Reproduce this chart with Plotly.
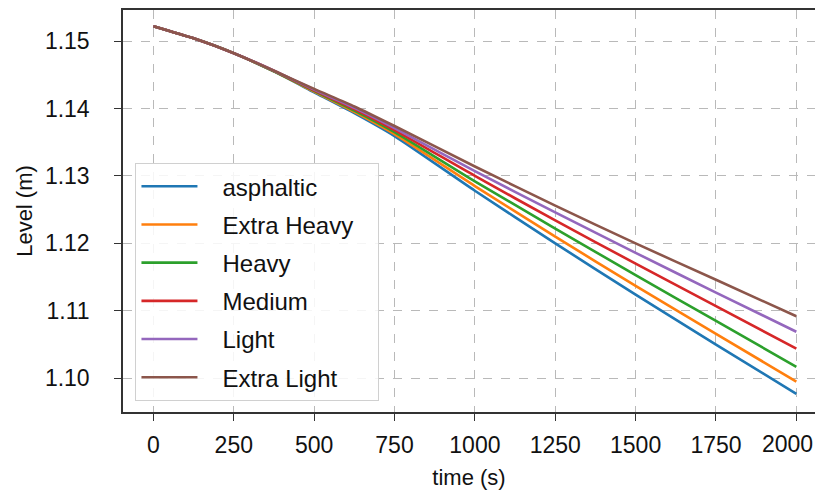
import plotly.graph_objects as go

time_s = [0, 125, 250, 375, 500, 625, 750, 1000, 1250, 1500, 1750, 2000]

asphaltic   = [1.1522, 1.1504, 1.1482, 1.1455, 1.1424, 1.1393, 1.1359, 1.1278, 1.1200, 1.1124, 1.1050, 1.0977]
extra_heavy = [1.1522, 1.1504, 1.1482, 1.1455, 1.1425, 1.1395, 1.1362, 1.1285, 1.1210, 1.1137, 1.1066, 1.0995]
heavy       = [1.1522, 1.1504, 1.1482, 1.1455, 1.1426, 1.1397, 1.1365, 1.1292, 1.1222, 1.1153, 1.1085, 1.1017]
medium      = [1.1522, 1.1504, 1.1482, 1.1456, 1.1427, 1.1399, 1.1368, 1.1300, 1.1234, 1.1170, 1.1107, 1.1044]
light       = [1.1522, 1.1504, 1.1482, 1.1456, 1.1428, 1.1401, 1.1371, 1.1307, 1.1246, 1.1186, 1.1127, 1.1069]
extra_light = [1.1522, 1.1504, 1.1482, 1.1456, 1.1429, 1.1403, 1.1374, 1.1314, 1.1256, 1.1200, 1.1146, 1.1092]

names = ["asphaltic", "Extra Heavy", "Heavy", "Medium", "Light", "Extra Light"]
series = [asphaltic, extra_heavy, heavy, medium, light, extra_light]
colors = ["#1f77b4", "#ff7f0e", "#2ca02c", "#d62728", "#9467bd", "#8c564b"]

x_ticks = [0, 250, 500, 750, 1000, 1250, 1500, 1750, 2000]
y_ticks = [1.10, 1.11, 1.12, 1.13, 1.14, 1.15]

FONT = "Liberation Sans, Arial, sans-serif"
NB = "\u00a0"

fig = go.Figure()
for i, (n, s, c) in enumerate(zip(names, series, colors)):
    fig.add_trace(go.Scatter(
        x=time_s, y=s, name=NB * 3 + n + NB * 3, mode="lines",
        line=dict(color=c, width=2.6, shape="spline", smoothing=0.6),
        legendgroup=f"g{i}",
    ))

axis_common = dict(
    showgrid=True, gridcolor="#b9b9b9", griddash="dash", gridwidth=1,
    zeroline=False, showline=True, linecolor="#333333", linewidth=1.5,
    ticks="outside", ticklen=7, tickwidth=1.3, tickcolor="#333333",
    tickfont=dict(family=FONT, size=23, color="#111111"),
    automargin=False,
)

# the last x tick label sits at the right edge; draw it as a right-aligned annotation
last_tick = x_ticks[-1]
x_text = [str(v) for v in x_ticks[:-1]] + [""]

# page body adds an 8px offset; figure sized so it fits the window without scrolling
fig.update_layout(
    width=807, height=482,
    margin=dict(l=115, r=0, t=2, b=78, pad=0),
    paper_bgcolor="white", plot_bgcolor="white",
    font=dict(family=FONT, size=22, color="#111111"),
    xaxis=dict(
        range=[-94.6, 2058], tickvals=x_ticks, ticktext=x_text,
        mirror=True, ticklabelstandoff=5,
        title=dict(text="time (s)", font=dict(size=22), standoff=27),
        **axis_common,
    ),
    yaxis=dict(
        range=[1.0950, 1.1546], tickvals=y_ticks, ticktext=[f"{v:.2f}" for v in y_ticks],
        mirror=False, ticklabelstandoff=20,
        title=dict(text="Level (m)", font=dict(size=22), standoff=6),
        **axis_common,
    ),
    legend=dict(
        x=0.018, y=0.619, xanchor="left", yanchor="top",
        bgcolor="rgba(255,255,255,0.85)", bordercolor="#d0d0d0", borderwidth=1,
        font=dict(family=FONT, size=24, color="#111111"),
        tracegroupgap=4, itemwidth=56,
    ),
    annotations=[dict(
        text=str(last_tick), xref="paper", yref="paper", x=1, y=0,
        xanchor="right", yanchor="middle", yshift=-32, showarrow=False,
        font=dict(family=FONT, size=23, color="#111111"),
    )],
    showlegend=True,
)

fig.write_html("out.html")
